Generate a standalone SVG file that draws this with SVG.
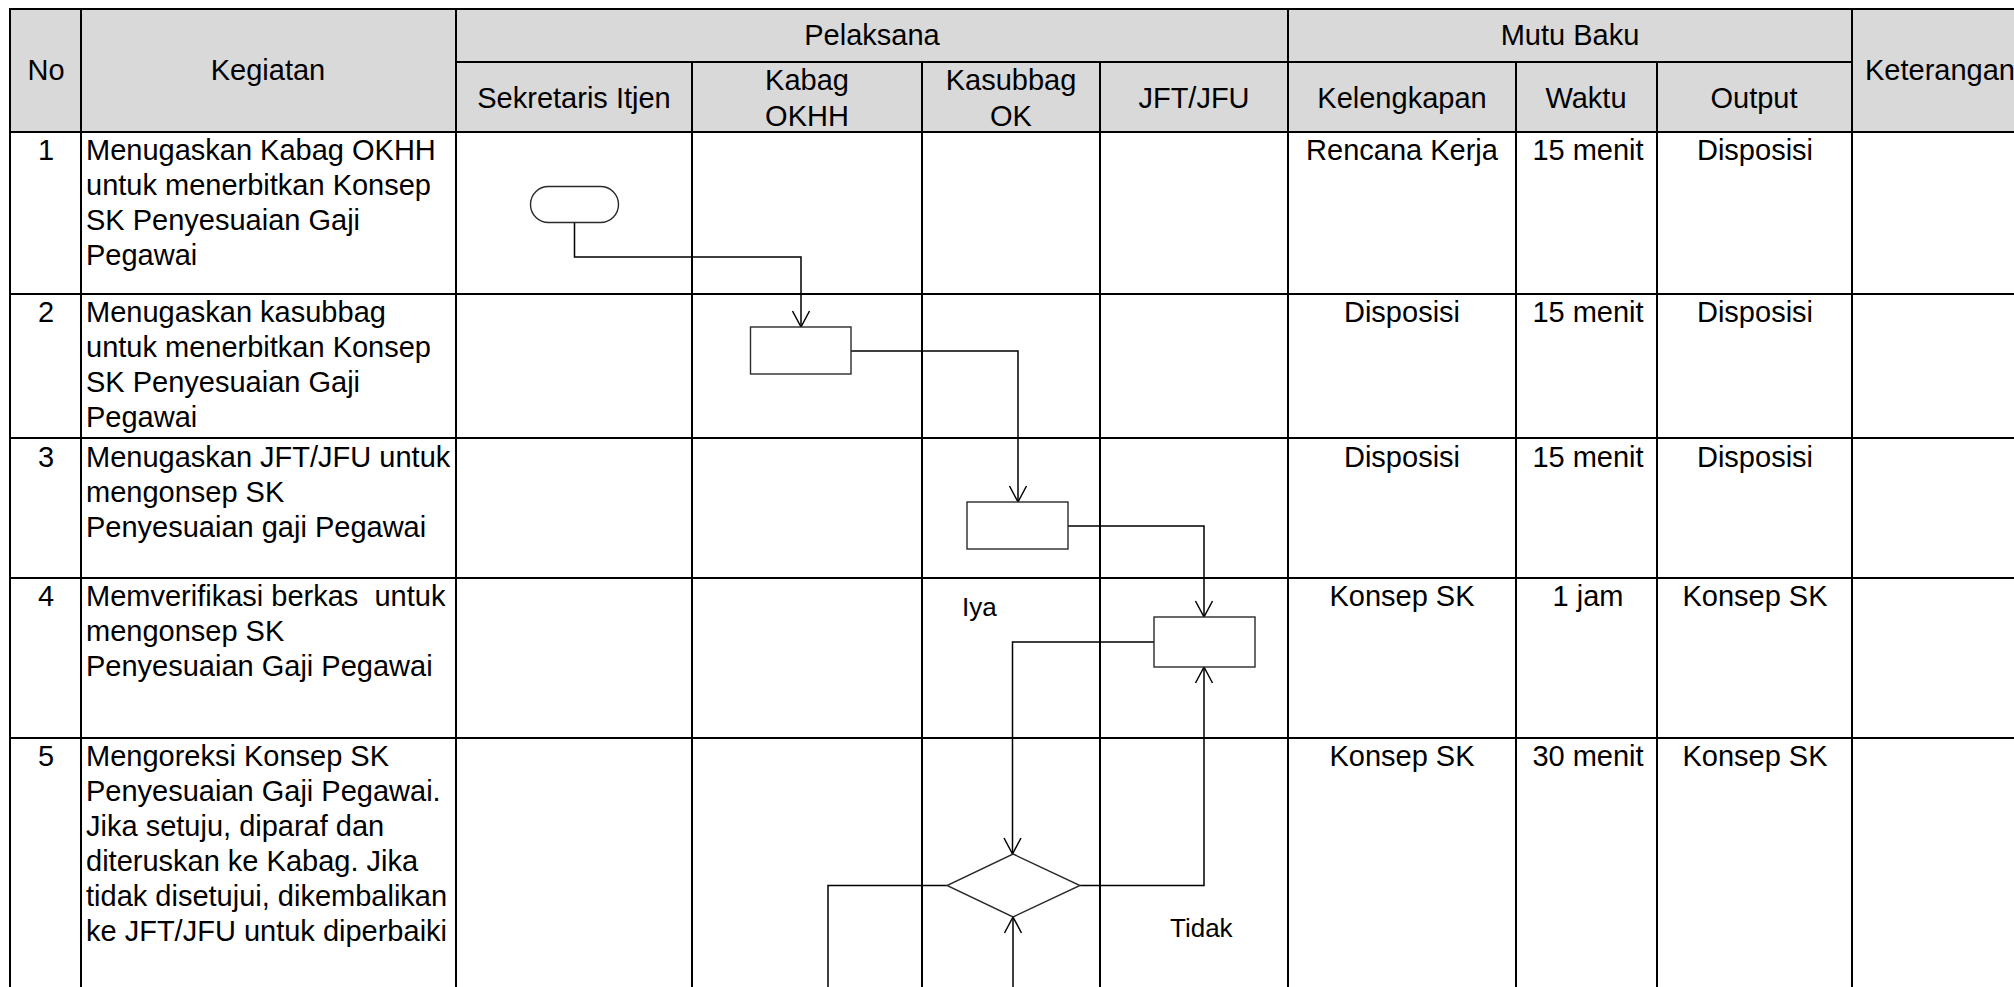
<svg xmlns="http://www.w3.org/2000/svg" width="2014" height="987" viewBox="0 0 2014 987">
<style>
  text { font-family: "Liberation Sans", Arial, sans-serif; font-size: 29px; fill: #000; }
  .c { text-anchor: middle; }
  .lbl { font-size: 26px; }
  .grid line { stroke: #000; stroke-width: 2; }
  .shape { fill: #fff; stroke: #2a2a2a; stroke-width: 1.4; }
  .conn path { fill: none; stroke: #000; stroke-width: 1.5; }
</style>
<defs>
  <marker id="arr" viewBox="-17 -10 19 20" refX="0" refY="0" markerWidth="19" markerHeight="20" markerUnits="userSpaceOnUse" orient="auto">
    <path d="M-16,-8.5 L0,0 L-16,8.5" fill="none" stroke="#000" stroke-width="1.5"/>
  </marker>
</defs>
<rect width="2014" height="987" fill="#fff"/>

<g id="table">
  <rect x="10" y="9" width="2020" height="123" fill="#d9d9d9"/>
  <g class="grid">
    <line x1="10" y1="9" x2="2030" y2="9"/>
    <line x1="10" y1="8" x2="10" y2="990"/>
    <line x1="456" y1="62" x2="1852" y2="62"/>
    <line x1="10" y1="132" x2="2030" y2="132"/>
    <line x1="10" y1="294" x2="2030" y2="294"/>
    <line x1="10" y1="438" x2="2030" y2="438"/>
    <line x1="10" y1="578" x2="2030" y2="578"/>
    <line x1="10" y1="738" x2="2030" y2="738"/>
    <line x1="81" y1="9" x2="81" y2="990"/>
    <line x1="456" y1="9" x2="456" y2="990"/>
    <line x1="692" y1="62" x2="692" y2="990"/>
    <line x1="922" y1="62" x2="922" y2="990"/>
    <line x1="1100" y1="62" x2="1100" y2="990"/>
    <line x1="1288" y1="9" x2="1288" y2="990"/>
    <line x1="1516" y1="62" x2="1516" y2="990"/>
    <line x1="1657" y1="62" x2="1657" y2="990"/>
    <line x1="1852" y1="9" x2="1852" y2="990"/>
  </g>
  <g id="headers">
    <text class="c" x="46" y="80">No</text>
    <text class="c" x="268" y="80">Kegiatan</text>
    <text class="c" x="872" y="45">Pelaksana</text>
    <text class="c" x="1570" y="45">Mutu Baku</text>
    <text class="c" x="1940" y="80">Keterangan</text>
    <text class="c" x="574" y="108">Sekretaris Itjen</text>
    <text class="c" x="807" y="90">Kabag</text>
    <text class="c" x="807" y="126">OKHH</text>
    <text class="c" x="1011" y="90">Kasubbag</text>
    <text class="c" x="1011" y="126">OK</text>
    <text class="c" x="1194" y="108">JFT/JFU</text>
    <text class="c" x="1402" y="108">Kelengkapan</text>
    <text class="c" x="1586" y="108">Waktu</text>
    <text class="c" x="1754" y="108">Output</text>
  </g>
  <g id="row1">
    <text class="c" x="46" y="160">1</text>
    <text x="86" y="160">Menugaskan Kabag OKHH</text>
    <text x="86" y="195">untuk menerbitkan Konsep</text>
    <text x="86" y="230">SK Penyesuaian Gaji</text>
    <text x="86" y="265">Pegawai</text>
    <text class="c" x="1402" y="160">Rencana Kerja</text>
    <text class="c" x="1588" y="160">15 menit</text>
    <text class="c" x="1755" y="160">Disposisi</text>
  </g>
  <g id="row2">
    <text class="c" x="46" y="322">2</text>
    <text x="86" y="322">Menugaskan kasubbag</text>
    <text x="86" y="357">untuk menerbitkan Konsep</text>
    <text x="86" y="392">SK Penyesuaian Gaji</text>
    <text x="86" y="427">Pegawai</text>
    <text class="c" x="1402" y="322">Disposisi</text>
    <text class="c" x="1588" y="322">15 menit</text>
    <text class="c" x="1755" y="322">Disposisi</text>
  </g>
  <g id="row3">
    <text class="c" x="46" y="467">3</text>
    <text x="86" y="467">Menugaskan JFT/JFU untuk</text>
    <text x="86" y="502">mengonsep SK</text>
    <text x="86" y="537">Penyesuaian gaji Pegawai</text>
    <text class="c" x="1402" y="467">Disposisi</text>
    <text class="c" x="1588" y="467">15 menit</text>
    <text class="c" x="1755" y="467">Disposisi</text>
  </g>
  <g id="row4">
    <text class="c" x="46" y="606">4</text>
    <text x="86" y="606" xml:space="preserve">Memverifikasi berkas  untuk</text>
    <text x="86" y="641">mengonsep SK</text>
    <text x="86" y="676">Penyesuaian Gaji Pegawai</text>
    <text class="c" x="1402" y="606">Konsep SK</text>
    <text class="c" x="1588" y="606">1 jam</text>
    <text class="c" x="1755" y="606">Konsep SK</text>
  </g>
  <g id="row5">
    <text class="c" x="46" y="766">5</text>
    <text x="86" y="766">Mengoreksi Konsep SK</text>
    <text x="86" y="801">Penyesuaian Gaji Pegawai.</text>
    <text x="86" y="836">Jika setuju, diparaf dan</text>
    <text x="86" y="871">diteruskan ke Kabag. Jika</text>
    <text x="86" y="906">tidak disetujui, dikembalikan</text>
    <text x="86" y="941">ke JFT/JFU untuk diperbaiki</text>
    <text class="c" x="1402" y="766">Konsep SK</text>
    <text class="c" x="1588" y="766">30 menit</text>
    <text class="c" x="1755" y="766">Konsep SK</text>
  </g>
</g>

<g id="connectors" class="conn">
  <path d="M574.5,222 V257 H801 V327" marker-end="url(#arr)"/>
  <path d="M851,351 H1018 V502" marker-end="url(#arr)"/>
  <path d="M1068,526 H1204 V617" marker-end="url(#arr)"/>
  <path d="M1154,642 H1012.5 V854" marker-end="url(#arr)"/>
  <path d="M1080,885.5 H1204 V667" marker-end="url(#arr)"/>
  <path d="M1013,992 V917" marker-end="url(#arr)"/>
  <path d="M947,885.5 H828 V992"/>
</g>

<g id="start">
  <rect class="shape" x="530.5" y="186.5" width="88" height="36" rx="18" ry="18"/>
</g>
<g id="kabag-box">
  <rect class="shape" x="750.5" y="327" width="100.5" height="47"/>
</g>
<g id="kasubbag-box">
  <rect class="shape" x="967" y="502" width="101" height="47"/>
</g>
<g id="jft-box">
  <rect class="shape" x="1154" y="617" width="101" height="50"/>
</g>
<g id="decision">
  <polygon class="shape" points="1013,854 1080,885.5 1013,917 947,885.5"/>
</g>
<g id="labels">
  <text class="lbl" x="962" y="616">Iya</text>
  <text class="lbl" x="1170" y="937">Tidak</text>
</g>
</svg>
